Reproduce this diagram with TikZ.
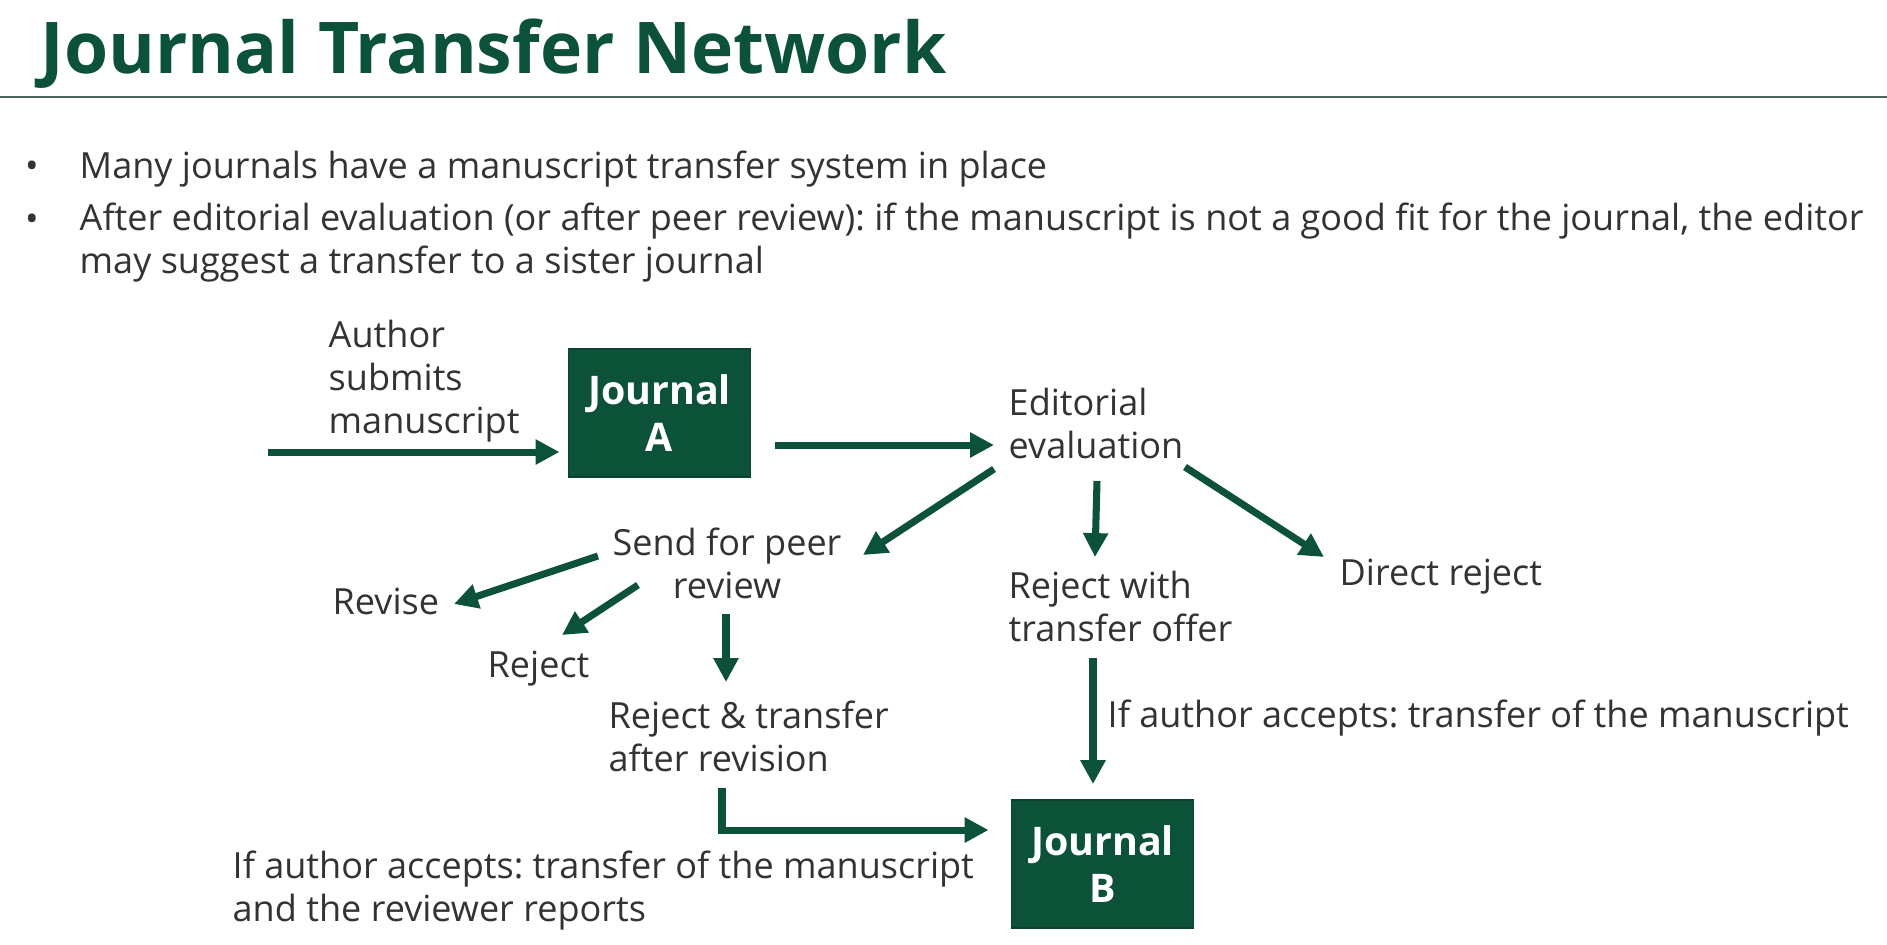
\documentclass[tikz,border=0pt]{standalone}
\usepackage{fontspec}
\setmainfont{Open Sans}
\usetikzlibrary{arrows.meta}
\definecolor{jgreen}{RGB}{12,82,56}
\definecolor{jtext}{RGB}{51,51,51}
\definecolor{jrule}{RGB}{70,100,88}
\frenchspacing

\begin{document}
\begin{tikzpicture}[x=0.01cm,y=-0.01cm,
    title/.style={text=jgreen, font=\fontsize{20.3}{24}\selectfont\bfseries, inner sep=0pt},
    txt/.style={text=jtext, font=\fontsize{10.25}{12.2}\selectfont, inner sep=0pt, align=left},
    jbox/.style={fill=jgreen, draw=jgreen!80!black, line width=0.5pt, text=white,
        font=\fontsize{11.2}{13.2}\selectfont\bfseries, align=center,
        minimum width=1.82cm, minimum height=1.28cm},
    arr/.style={jgreen, line width=2pt, -{Triangle[length=6.8pt,width=6.8pt]}}]
    \useasboundingbox (0,0) rectangle (1887,944);
    % heading
    \node[title, anchor=base west] (head) at (40,73) {Journal Transfer Network};
    \draw[jrule, line width=0.5pt] (0,97) -- (1887,97);
    % bullets
    \node[txt, anchor=base] (dot1) at (32,178) {•};
    \node[txt, anchor=base west] (bul1) at (79,178) {Many journals have a manuscript transfer system in place};
    \node[txt, anchor=base] (dot2) at (32,231) {•};
    \node[txt, anchor=base west] (bul2) at (79,273) {After editorial evaluation (or after peer review): if the manuscript is not a good fit for the journal, the editor\\may suggest a transfer to a sister journal};
    % journals
    \node[jbox] (jA) at (659.5,413) {Journal\\A};
    \node[jbox] (jB) at (1102.5,864) {Journal\\B};
    % texts (base = last line)
    \node[txt, anchor=base west] (submit) at (328,433) {Author\\submits\\manuscript};
    \node[txt, anchor=base west] (eval) at (1008,458) {Editorial\\evaluation};
    \node[txt, anchor=base, align=center] (peer) at (727,598) {Send for peer\\review};
    \node[txt, anchor=base west] (offer) at (1008,641) {Reject with\\transfer offer};
    \node[txt, anchor=base west] (direct) at (1339,585) {Direct reject};
    \node[txt, anchor=base west] (revise) at (332,614) {Revise};
    \node[txt, anchor=base west] (reject) at (487,677) {Reject};
    \node[txt, anchor=base west] (rtrans) at (608,771) {Reject \& transfer\\after revision};
    \node[txt, anchor=base west] (accept1) at (1107,727) {If author accepts: transfer of the manuscript};
    \node[txt, anchor=base west] (accept2) at (232,921) {If author accepts: transfer of the manuscript\\and the reviewer reports};
    % arrows
    \coordinate (in) at (268,452);
    \draw[arr, shorten >=2.3pt] (in) -- (in -| jA.west);
    \draw[arr] ([shift={(24,32)}]jA.east) -- ([shift={(-14,-13)}]eval.base west);
    \draw[arr] ([shift={(-14,11)}]eval.base west) -- ([shift={(136,-43)}]peer.base);
    \draw[arr] ([shift={(89,23)}]eval.base west) -- ([shift={(87,-84)}]offer.base west);
    \draw[arr] ([shift={(177,9)}]eval.base west) -- ([shift={(-15,-28)}]direct.base west);
    \draw[arr] ([shift={(-129,-42)}]peer.base) -- ([shift={(122,-10)}]revise.base west);
    \draw[arr] ([shift={(-89,-13)}]peer.base) -- ([shift={(75,-42)}]reject.base west);
    \draw[arr] ([shift={(-1,16)}]peer.base) -- ([shift={(118,-89)}]rtrans.base west);
    \draw[arr] ([shift={(114,17)}]rtrans.base west) |- ([shift={(-22,-34)}]jB.west);
    \draw[arr] ([shift={(85,17)}]offer.base west) -- ([shift={(-9.5,-15)}]jB.north);
\end{tikzpicture}
\end{document}
